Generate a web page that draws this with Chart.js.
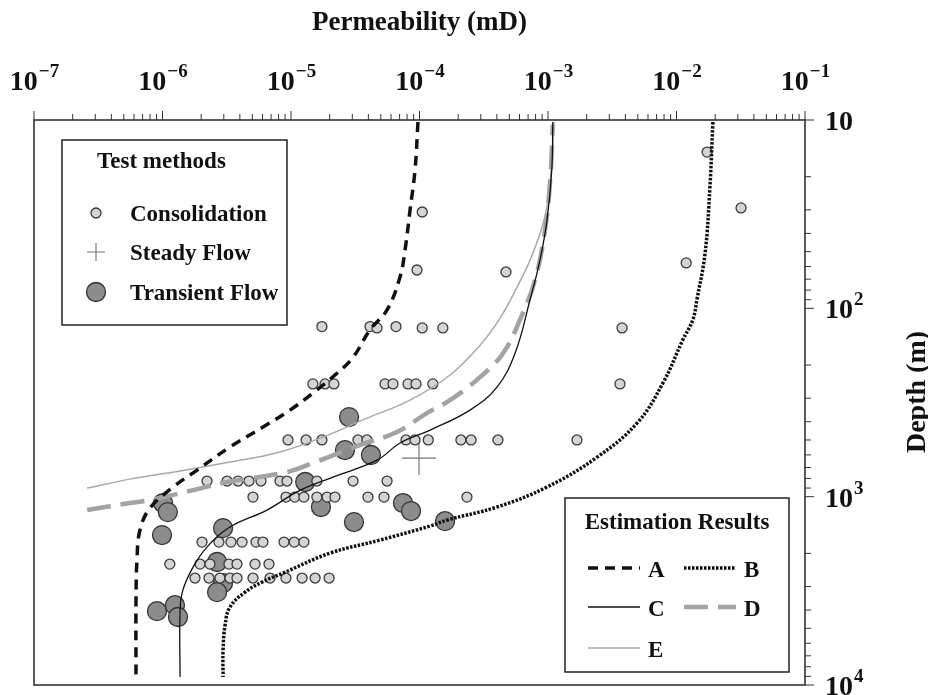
<!DOCTYPE html>
<html>
<head>
<meta charset="utf-8">
<script src="https://cdn.jsdelivr.net/npm/chart.js@4.4.1/dist/chart.umd.min.js"></script>
<style>
  html, body { margin: 0; padding: 0; background: #fff; overflow: hidden; }
  canvas { display: block; }
</style>
</head>
<body>
<canvas id="chart" width="928" height="695"></canvas>
<script>
// Permeability (mD) against depth (m)

const xTickExps = [-7, -6, -5, -4, -3, -2, -1];
const yTickExps = [1, 2, 3, 4];

// estimation curves (permeability, depth)
const curveA_k = [9.73e-5, 9.23e-5, 8.44e-5, 7.72e-5, 7.05e-5, 5.59e-5, 4.12e-5, 3.04e-5, 2.28e-5, 1.48e-5, 9.82e-6, 6.05e-6, 3.35e-6, 1.86e-6, 1.21e-6, 7.99e-7, 6.68e-7, 6.33e-7, 6.22e-7, 6.22e-7];
const curveA_z = [10.25, 18.4, 30.1, 49.0, 68.2, 102, 130, 182, 221, 282, 347, 427, 545, 723, 889, 1151, 1503, 2173, 3540, 8850];

const curveB_k = [1.92e-2, 1.82e-2, 1.67e-2, 1.44e-2, 1.34e-2, 1.12e-2, 7.85e-3, 4.93e-3, 2.41e-3, 9.82e-4, 4.01e-4, 1.64e-4, 1.21e-4, 4.93e-5, 2.01e-5, 8.66e-6, 5.95e-6, 4.39e-6, 3.35e-6, 3.07e-6, 2.96e-6, 2.96e-6];
const curveB_z = [10.25, 22.7, 50.8, 90.3, 115, 147, 249, 407, 617, 889, 1135, 1331, 1432, 1700, 1995, 2547, 2843, 3214, 3855, 4808, 6531, 9080];

const curveC_k = [1.09e-3, 1.07e-3, 9.82e-4, 8.66e-4, 7.24e-4, 5.54e-4, 4.01e-4, 2.47e-4, 1.21e-4, 7.05e-5, 4.67e-5, 2.12e-5, 1.18e-5, 6.5e-6, 3.35e-6, 2.22e-6, 1.73e-6, 1.44e-6, 1.37e-6, 1.37e-6];
const curveC_z = [10.25, 18.4, 34.0, 55.4, 90.3, 173, 262, 347, 443, 519, 640, 787, 923, 1178, 1449, 1853, 2366, 3133, 4000, 9080];

const curveD_k = [2.59e-7, 5.59e-7, 7.99e-7, 1.73e-6, 3.18e-6, 9.31e-6, 1.48e-5, 3.44e-5, 6.68e-5, 1.14e-4, 1.73e-4, 2.96e-4, 4.47e-4, 6.05e-4, 7.92e-4, 9.48e-4, 1.04e-3, 1.09e-3];
const curveD_z = [1178, 1081, 1042, 923, 836, 740, 663, 532, 454, 360, 307, 232, 173, 115, 70.8, 38.4, 20.8, 10.6];

const curveE_k = [2.59e-7, 5.59e-7, 1.37e-6, 3.35e-6, 8.21e-6, 1.77e-5, 3.90e-5, 8.44e-5, 1.73e-4, 2.96e-4, 4.23e-4, 5.74e-4, 7.64e-4, 9.82e-4, 1.07e-3, 1.11e-3];
const curveE_z = [900, 807, 731, 655, 579, 483, 383, 307, 226, 157, 113, 77.1, 50.8, 29.0, 16.3, 10.25];

// test results
const consol_k = [
  1.73e-2, 3.18e-2, 1.05e-4, 1.19e-2, 9.56e-5, 4.71e-4,
  1.74e-5, 4.12e-5, 4.67e-5, 6.56e-5, 1.05e-4, 1.52e-4, 3.77e-3,
  1.48e-5, 1.84e-5, 2.16e-5, 5.39e-5, 6.22e-5, 8.14e-5, 9.39e-5, 1.27e-4, 3.63e-3,
  9.48e-6, 1.31e-5, 1.74e-5, 3.32e-5, 3.90e-5, 7.85e-5, 9.23e-5, 1.17e-4, 2.10e-4, 2.52e-4, 4.08e-4, 1.68e-3,
  2.22e-6, 3.18e-6, 3.87e-6, 4.71e-6, 5.84e-6, 8.21e-6, 9.31e-6, 1.59e-5, 3.04e-5, 5.59e-5,
  5.06e-6, 9.14e-6, 1.07e-5, 1.26e-5, 1.59e-5, 1.91e-5, 2.20e-5, 3.97e-5, 5.29e-5, 2.34e-4,
  2.03e-6, 2.75e-6, 3.41e-6, 4.16e-6, 5.34e-6, 6.05e-6, 8.82e-6, 1.06e-5, 1.26e-5,
  1.14e-6, 1.96e-6, 2.34e-6, 3.29e-6, 3.80e-6, 5.25e-6, 6.74e-6,
  1.79e-6, 2.30e-6, 2.80e-6, 3.35e-6, 3.80e-6, 5.06e-6, 6.87e-6, 9.14e-6, 1.22e-5, 1.54e-5, 1.98e-5
];
const consol_z = [
  14.8, 29.3, 30.8, 57.4, 62.6, 64.1,
  125, 125, 127, 125, 127, 127, 127,
  252, 252, 252, 252, 252, 252, 252, 252, 252,
  500, 500, 500, 500, 500, 500, 500, 500, 500, 500, 500, 500,
  826, 826, 826, 826, 826, 826, 826, 826, 826, 826,
  1005, 1005, 1005, 1005, 1005, 1005, 1005, 1005, 1005, 1005,
  1742, 1742, 1742, 1742, 1742, 1742, 1742, 1742, 1742,
  2280, 2280, 2280, 2280, 2280, 2280, 2280,
  2704, 2704, 2704, 2704, 2704, 2704, 2704, 2704, 2704, 2704, 2704
];

const steady_k = [9.91e-5];
const steady_z = [624];

const transient_k = [2.83e-5, 2.63e-5, 4.19e-5, 1.29e-5, 1.71e-5, 7.44e-5, 8.59e-5, 3.09e-5, 1.58e-4, 1.01e-6, 1.10e-6, 9.91e-7, 2.96e-6, 2.66e-6, 2.96e-6, 2.66e-6, 9.06e-7, 1.25e-6, 1.32e-6];
const transient_z = [378, 566, 601, 836, 1135, 1081, 1192, 1365, 1349, 1081, 1208, 1600, 1469, 2223, 2877, 3214, 4055, 3767, 4355];

const serif = '"Liberation Serif", "Times New Roman", serif';
const pts = (ks, zs) => ks.map((k, i) => ({ x: k, y: zs[i] }));

function curve(label, ks, zs, color, width, dash) {
  return {
    label,
    data: pts(ks, zs),
    showLine: true,
    borderColor: color,
    borderWidth: width,
    borderDash: dash,
    borderCapStyle: 'butt',
    pointRadius: 0,
    tension: 0.4,
    order: 0
  };
}

const datasets = [
  curve('A', curveA_k, curveA_z, '#111', 3.5, [10, 7]),
  curve('B', curveB_k, curveB_z, '#111', 3.5, [2.5, 1.5]),
  curve('C', curveC_k, curveC_z, '#111', 1.3, []),
  curve('D', curveD_k, curveD_z, '#a3a3a3', 4.5, [24, 10]),
  curve('E', curveE_k, curveE_z, '#a8a8a8', 1.5, []),
  {
    label: 'Consolidation', data: pts(consol_k, consol_z),
    pointRadius: 5, pointBackgroundColor: '#d4d4d4', pointBorderColor: '#3a3a3a', pointBorderWidth: 1.3, order: 1
  },
  {
    label: 'Steady Flow', data: pts(steady_k, steady_z),
    pointStyle: 'cross', pointRadius: 17, pointBorderColor: '#777', pointBorderWidth: 1.2, order: 1
  },
  {
    label: 'Transient Flow', data: pts(transient_k, transient_z),
    pointRadius: 9.5, pointBackgroundColor: '#8c8c8c', pointBorderColor: '#333', pointBorderWidth: 1.3, order: 1
  }
];

function supLabel(ctx, x, y, base, exp, align) {
  ctx.font = 'bold 28px ' + serif;
  const w1 = ctx.measureText(base).width;
  ctx.font = 'bold 19px ' + serif;
  const w2 = exp ? ctx.measureText(exp).width : 0;
  const left = align === 'center' ? x - (w1 + w2) / 2 : x;
  ctx.textAlign = 'left';
  ctx.font = 'bold 28px ' + serif;
  ctx.fillText(base, left, y);
  if (exp) {
    ctx.font = 'bold 19px ' + serif;
    ctx.fillText(exp, left + w1 + 1, y - 13);
  }
}

const decor = {
  id: 'decor',
  afterDraw(chart) {
    const { ctx, chartArea: a, scales: { x, y } } = chart;
    ctx.save();
    ctx.fillStyle = '#111';
    ctx.textBaseline = 'alphabetic';

    // frame
    ctx.strokeStyle = '#333';
    ctx.lineWidth = 1.6;
    ctx.strokeRect(a.left, a.top, a.right - a.left, a.bottom - a.top);

    // ticks
    ctx.lineWidth = 1;
    xTickExps.forEach((e, i) => {
      for (let m = 1; m <= 9; m++) {
        if (i === xTickExps.length - 1 && m > 1) break;
        const px = x.getPixelForValue(m * Math.pow(10, e));
        const len = m === 1 ? 9 : 6;
        ctx.beginPath(); ctx.moveTo(px, a.top); ctx.lineTo(px, a.top - len); ctx.stroke();
      }
    });
    yTickExps.forEach((e, i) => {
      for (let m = 1; m <= 9; m++) {
        if (i === yTickExps.length - 1 && m > 1) break;
        const py = y.getPixelForValue(m * Math.pow(10, e));
        const len = m === 1 ? 9 : 6;
        ctx.beginPath(); ctx.moveTo(a.right, py); ctx.lineTo(a.right + len, py); ctx.stroke();
      }
    });

    // tick labels
    xTickExps.forEach(e => {
      supLabel(ctx, x.getPixelForValue(Math.pow(10, e)), 90, '10', '\u2212' + Math.abs(e), 'center');
    });
    yTickExps.forEach(e => {
      supLabel(ctx, a.right + 20, y.getPixelForValue(Math.pow(10, e)) + 10, '10', e === 1 ? '' : String(e), 'left');
    });

    // axis titles
    ctx.font = 'bold 27px ' + serif;
    ctx.textAlign = 'center';
    ctx.fillText('Permeability (mD)', (a.left + a.right) / 2, 30);
    ctx.save();
    ctx.font = 'bold 28px ' + serif;
    ctx.translate(925, 392);
    ctx.rotate(-Math.PI / 2);
    ctx.fillText('Depth (m)', 0, 0);
    ctx.restore();

    // legend: test methods
    ctx.strokeStyle = '#222';
    ctx.lineWidth = 1.5;
    ctx.strokeRect(62, 140, 225, 185);
    ctx.font = 'bold 23px ' + serif;
    ctx.textAlign = 'left';
    ctx.fillText('Test methods', 97, 168);
    const marks = [datasets[5], datasets[6], datasets[7]];
    const rowsY = [213, 252, 292];
    marks.forEach((ds, i) => {
      const cy = rowsY[i];
      ctx.lineWidth = ds.pointBorderWidth;
      ctx.strokeStyle = ds.pointBorderColor;
      if (ds.pointStyle === 'cross') {
        const r = 9;
        ctx.beginPath();
        ctx.moveTo(96 - r, cy); ctx.lineTo(96 + r, cy);
        ctx.moveTo(96, cy - r); ctx.lineTo(96, cy + r);
        ctx.stroke();
      } else {
        ctx.beginPath();
        ctx.arc(96, cy, ds.pointRadius, 0, Math.PI * 2);
        ctx.fillStyle = ds.pointBackgroundColor;
        ctx.fill();
        ctx.stroke();
      }
      ctx.fillStyle = '#111';
      ctx.font = 'bold 23px ' + serif;
      ctx.fillText(ds.label, 130, cy + 8);
    });

    // legend: estimation results
    ctx.strokeStyle = '#222';
    ctx.lineWidth = 1.5;
    ctx.strokeRect(565, 498, 224, 174);
    ctx.font = 'bold 23px ' + serif;
    ctx.textAlign = 'center';
    ctx.fillText('Estimation Results', 677, 529);
    const slots = [[588, 568], [684, 568], [588, 607], [684, 607], [588, 648]];
    datasets.slice(0, 5).forEach((ds, i) => {
      const [lx, ly] = slots[i];
      ctx.save();
      ctx.strokeStyle = ds.borderColor;
      ctx.lineWidth = ds.borderWidth;
      ctx.setLineDash(ds.borderDash);
      ctx.beginPath(); ctx.moveTo(lx, ly); ctx.lineTo(lx + 52, ly); ctx.stroke();
      ctx.restore();
      ctx.font = 'bold 23px ' + serif;
      ctx.textAlign = 'left';
      ctx.fillText(ds.label, lx + 60, ly + 9);
    });
    ctx.restore();
  }
};

new Chart(document.getElementById('chart'), {
  type: 'scatter',
  data: { datasets },
  options: {
    responsive: false,
    animation: false,
    layout: { autoPadding: false, padding: { left: 34, right: 123, top: 120, bottom: 10 } },
    plugins: { legend: { display: false }, tooltip: { enabled: false } },
    scales: {
      x: {
        type: 'logarithmic', position: 'top', min: 1e-7, max: 1e-1,
        ticks: { display: false }, grid: { display: false }, border: { display: false },
        afterFit: s => { s.height = 0; }
      },
      y: {
        type: 'logarithmic', position: 'right', reverse: true, min: 10, max: 1e4,
        ticks: { display: false }, grid: { display: false }, border: { display: false },
        afterFit: s => { s.width = 0; }
      }
    }
  },
  plugins: [decor]
});
</script>
</body>
</html>
